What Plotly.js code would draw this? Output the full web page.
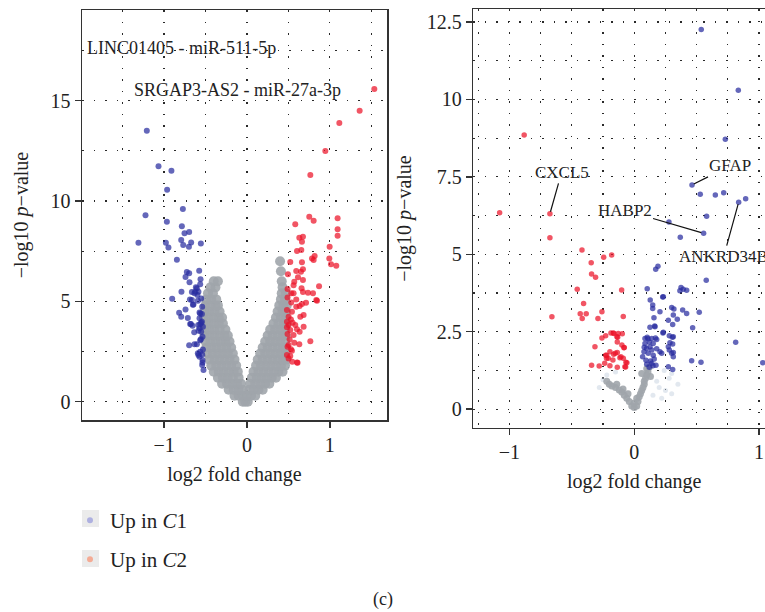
<!DOCTYPE html>
<html>
<head>
<meta charset="utf-8">
<script src="https://cdn.plot.ly/plotly-3.0.1.min.js"></script>
<style>html,body{margin:0;padding:0;background:#fff;}#plot{width:765px;height:612px;}</style>
</head>
<body>
<div id="plot"></div>
<script>
// ---------------- DATA ----------------
// Left panel: lncRNA - miRNA pairs
const leftBlueX = [-1.208,-1.067,-0.911,-0.963,-0.773,-1.224,-0.966,-0.785,-0.753,-0.697,-1.309,-0.978,-0.947,-0.793,-0.769,-0.700,-0.673,-0.556,-0.845,-0.725,-0.697,-0.576,-0.741,-0.693,-0.560,-0.564,-0.604,-0.624,-0.585,-0.790,-0.664,-0.597,-0.902,-0.688,-0.552,-0.592,-0.652,-0.540,-0.741,-0.818,-0.572,-0.543,-0.793,-0.713,-0.572,-0.543,-0.564,-0.685,-0.657,-0.531,-0.572,-0.552,-0.536,-0.556,-0.633,-0.697,-0.604,-0.564,-0.592,-0.540,-0.572,-0.540,-0.524,-0.585,-0.588,-0.552,-0.616,-0.633,-0.536,-0.585,-0.645,-0.664,-0.676,-0.636,-0.564,-0.564,-0.536,-0.531];
const leftBlueY = [13.50,11.73,11.51,10.56,9.60,9.29,8.97,8.75,8.39,8.46,7.92,7.92,7.69,8.06,7.81,7.72,7.94,7.89,7.08,6.46,6.40,6.53,6.21,5.96,6.10,5.86,5.65,5.48,5.48,5.48,5.47,5.32,5.13,5.10,5.15,5.03,4.83,4.73,4.60,4.43,4.45,4.37,4.24,4.17,4.16,3.99,3.87,3.87,3.79,3.74,3.66,3.49,3.24,3.11,2.87,2.81,2.87,2.49,2.41,2.36,2.24,1.83,1.58,3.54,3.82,3.94,5.70,5.40,2.08,2.33,4.85,5.07,3.87,3.46,3.07,4.40,1.95,2.60];

const leftRedX = [1.537,1.360,1.115,0.946,0.765,0.752,0.805,1.094,1.094,1.094,0.583,0.676,0.632,0.664,0.998,0.656,0.604,0.994,0.785,0.805,0.817,1.014,1.078,0.523,0.664,0.595,0.676,0.652,0.495,0.616,0.676,0.571,0.563,0.870,0.659,0.490,0.676,0.535,0.563,0.737,0.797,0.595,0.490,0.845,0.713,0.664,0.535,0.595,0.636,0.483,0.543,0.684,0.644,0.503,0.531,0.483,0.551,0.503,0.583,0.483,0.604,0.523,0.684,0.636,0.490,0.563,0.515,0.765,0.571,0.632,0.503,0.531,0.543,0.483,0.523,0.547,0.611,0.503,0.604,0.490,0.837];
const leftRedY = [15.58,14.50,13.89,12.49,11.30,9.22,9.02,9.14,8.59,8.27,8.85,8.22,8.17,7.97,7.72,7.56,7.51,7.14,7.14,7.06,7.26,6.85,6.78,6.96,6.95,6.51,6.60,6.48,6.35,6.20,6.06,5.98,5.81,5.76,5.65,5.62,5.47,5.40,5.40,5.43,5.40,5.10,5.20,5.03,4.93,4.87,4.95,4.73,4.77,4.57,4.49,4.32,4.24,4.24,4.10,3.99,3.94,3.82,3.82,3.71,3.61,3.57,3.74,3.49,3.37,3.32,3.11,3.02,2.94,2.87,2.83,2.61,2.54,2.33,2.28,1.99,1.94,2.16,1.96,2.74,5.07];

// grey (not significant) cloud of the left panel, [log2FC, -log10 p]
const leftGrey = [
 [-0.05,0],[-0.02,0],[0.01,0],
 [-0.15,0.3],[-0.10,0.3],[-0.05,0.3],[0.0,0.3],[0.05,0.3],[0.10,0.3],
 [-0.22,0.6],[-0.16,0.6],[-0.10,0.6],[-0.05,0.6],[0.03,0.6],[0.08,0.6],[0.14,0.6],[0.19,0.6],
 [-0.30,0.9],[-0.24,0.9],[-0.18,0.9],[-0.12,0.9],[-0.07,0.9],[0.04,0.9],[0.10,0.9],[0.16,0.9],[0.22,0.9],[0.27,0.9],
 [-0.35,1.2],[-0.29,1.2],[-0.23,1.2],[-0.17,1.2],[-0.10,1.2],[0.06,1.2],[0.12,1.2],[0.18,1.2],[0.24,1.2],[0.30,1.2],[0.35,1.2],
 [-0.40,1.5],[-0.34,1.5],[-0.28,1.5],[-0.22,1.5],[-0.16,1.5],[-0.11,1.5],[0.08,1.5],[0.14,1.5],[0.20,1.5],[0.26,1.5],[0.32,1.5],[0.38,1.5],[0.43,1.5],
 [-0.43,1.8],[-0.37,1.8],[-0.31,1.8],[-0.25,1.8],[-0.19,1.8],[-0.13,1.8],[0.11,1.8],[0.17,1.8],[0.23,1.8],[0.29,1.8],[0.35,1.8],[0.41,1.8],[0.46,1.8],
 [-0.45,2.1],[-0.39,2.1],[-0.33,2.1],[-0.27,2.1],[-0.21,2.1],[-0.15,2.1],[0.13,2.1],[0.19,2.1],[0.25,2.1],[0.31,2.1],[0.37,2.1],[0.43,2.1],[0.47,2.1],
 [-0.47,2.4],[-0.41,2.4],[-0.35,2.4],[-0.29,2.4],[-0.23,2.4],[-0.17,2.4],[0.16,2.4],[0.22,2.4],[0.28,2.4],[0.34,2.4],[0.40,2.4],[0.46,2.4],
 [-0.49,2.7],[-0.43,2.7],[-0.37,2.7],[-0.31,2.7],[-0.25,2.7],[-0.19,2.7],[0.19,2.7],[0.25,2.7],[0.31,2.7],[0.37,2.7],[0.43,2.7],[0.47,2.7],
 [-0.50,3.0],[-0.44,3.0],[-0.38,3.0],[-0.32,3.0],[-0.26,3.0],[-0.21,3.0],[0.22,3.0],[0.28,3.0],[0.34,3.0],[0.40,3.0],[0.46,3.0],
 [-0.51,3.3],[-0.45,3.3],[-0.39,3.3],[-0.33,3.3],[-0.27,3.3],[-0.23,3.3],[0.25,3.3],[0.31,3.3],[0.37,3.3],[0.43,3.3],[0.47,3.3],
 [-0.51,3.6],[-0.45,3.6],[-0.39,3.6],[-0.33,3.6],[-0.26,3.6],[0.28,3.6],[0.34,3.6],[0.40,3.6],[0.46,3.6],
 [-0.52,3.9],[-0.46,3.9],[-0.40,3.9],[-0.34,3.9],[-0.29,3.9],[0.32,3.9],[0.38,3.9],[0.44,3.9],[0.48,3.9],
 [-0.52,4.2],[-0.46,4.2],[-0.40,4.2],[-0.34,4.2],[-0.30,4.2],[0.35,4.2],[0.41,4.2],[0.47,4.2],
 [-0.51,4.5],[-0.45,4.5],[-0.39,4.5],[-0.33,4.5],[0.37,4.5],[0.43,4.5],[0.47,4.5],
 [-0.50,4.8],[-0.44,4.8],[-0.38,4.8],[-0.35,4.8],[0.39,4.8],[0.44,4.8],[0.48,4.8],
 [-0.49,5.1],[-0.43,5.1],[-0.37,5.1],[0.41,5.1],[0.46,5.1],
 [-0.47,5.4],[-0.41,5.4],[0.42,5.4],[0.47,5.4],
 [-0.44,5.7],[-0.38,5.7],[0.43,5.7],
 [-0.40,6.0],[-0.35,6.0],[0.42,6.0],
 [0.41,6.5],[0.40,7.0]
];

// Right panel: genes
const rightRedX = [-0.882,-1.079,-0.676,-0.676,-0.419,-0.345,-0.245,-0.181,-0.342,-0.310,-0.457,-0.101,-0.406,-0.433,-0.385,-0.417,-0.259,-0.291,-0.088,-0.660,-0.229,-0.259,-0.187,-0.163,-0.096,-0.139,-0.136,-0.315,-0.099,-0.083,-0.229,-0.208,-0.171,-0.165,-0.136,-0.115,-0.088,-0.342,-0.281,-0.237,-0.195,-0.136,-0.069,-0.059,-0.222,-0.168,-0.128,-0.133,-0.080,-0.195,-0.152,-0.107,-0.222,-0.067,-0.075];
const rightRedY = [8.85,6.34,6.31,5.53,5.14,4.73,4.90,4.98,4.36,4.26,3.87,3.85,3.41,3.08,3.08,2.93,3.14,2.93,2.99,2.98,2.37,2.30,2.46,2.44,2.43,2.34,2.17,2.01,2.07,1.98,1.74,1.64,1.59,1.77,1.83,1.66,1.64,1.42,1.39,1.48,1.40,1.35,1.36,1.50,1.74,2.46,2.44,2.32,1.99,1.85,1.80,1.69,1.64,1.51,1.37];

const rightBlueX = [0.537,0.834,0.730,0.463,0.529,0.650,0.717,0.837,0.893,0.580,0.278,0.556,0.369,0.172,0.190,0.577,0.104,0.375,0.393,0.420,0.366,0.228,0.128,0.148,0.148,0.206,0.300,0.318,0.388,0.420,0.521,0.158,0.273,0.308,0.345,0.126,0.164,0.230,0.281,0.305,0.086,0.104,0.140,0.120,0.086,0.152,0.126,0.099,0.140,0.078,0.112,0.152,0.067,0.094,0.140,0.174,0.206,0.220,0.281,0.300,0.313,0.286,0.308,0.273,0.308,0.460,0.535,0.813,1.030,0.468,0.233,0.313,0.166,0.233,0.313,0.273,0.313,0.10,0.13,0.16,0.08,0.17,0.12,0.15,0.18,0.18,0.11];
const rightBlueY = [12.26,10.30,8.71,7.24,6.94,6.91,6.99,6.68,6.79,6.23,6.04,5.68,5.55,4.52,4.61,4.16,3.89,3.93,3.87,3.84,3.82,3.62,3.52,3.36,3.25,3.14,3.28,3.23,3.20,3.09,3.13,2.95,2.87,2.73,2.90,2.64,2.68,2.46,2.37,2.32,2.28,2.32,2.28,2.17,2.12,2.12,2.01,1.96,1.91,1.85,1.80,1.74,1.69,1.58,1.48,1.42,1.85,1.80,1.91,1.80,1.83,2.14,2.10,1.37,1.28,1.56,1.51,2.16,1.50,2.63,3.63,3.04,2.66,2.48,2.34,2.01,1.69,1.45,1.55,1.62,2.00,2.30,1.35,1.40,1.95,2.25,2.27];

const rightGrey = [
 [0.00,0.05],[0.02,0.10],[-0.02,0.10],[0.00,0.20],[-0.04,0.25],[0.03,0.25],[-0.06,0.35],[0.02,0.35],[0.04,0.40],
 [-0.08,0.45],[-0.05,0.50],[0.05,0.50],[-0.10,0.55],[0.06,0.60],[-0.12,0.62],[-0.09,0.65],[-0.15,0.70],[0.07,0.70],
 [-0.18,0.75],[-0.14,0.80],[-0.20,0.80],[0.08,0.80],[-0.22,0.90],[0.08,0.90],[0.09,1.00],[0.10,1.10],[0.11,1.20],
 [0.10,1.30],[0.12,1.35],[0.06,1.15],[0.13,1.05]
];
const rightGreyLight = [
 [0.20,0.70],[0.25,0.60],[0.30,0.50],[0.18,0.90],[0.35,0.80],[-0.28,0.70],[-0.22,1.10],[0.28,1.00],
 [0.15,0.45],[0.22,0.35],[-0.15,1.20],[0.30,1.15],[-0.25,0.95],[0.24,1.25]
];

const legendNames = ['Up in <i>C</i>1', 'Up in <i>C</i>2'];
const leftLabels = ['LINC01405 - miR-511-5p', 'SRGAP3-AS2 - miR-27a-3p'];
const leftLabelX = [-0.787, -0.117];
const leftLabelY = [17.64, 15.53];
const geneLabels = ['CXCL5', 'GFAP', 'HABP2', 'ANKRD34B'];
const geneX = [-0.676, 0.463, 0.553, 0.837];
const geneY = [6.31, 7.24, 5.68, 6.68];

// ---------------- STYLE ----------------
const FONT = 'Liberation Serif, Times New Roman, serif';
const BLUE = 'rgba(40,45,160,0.72)';
const RED = 'rgba(236,20,40,0.72)';
const GREY = 'rgba(160,165,171,0.9)';
const GREYLIGHT = 'rgba(190,205,220,0.45)';

function pts(arr, k){ return arr.map(p => p[k]); }

const traces = [
  {x: pts(leftGrey,0), y: pts(leftGrey,1), xaxis:'x', yaxis:'y', type:'scatter', mode:'markers',
   marker:{color:GREY, size:10}, showlegend:false, hoverinfo:'skip'},
  {x: leftBlueX, y: leftBlueY, xaxis:'x', yaxis:'y', type:'scatter', mode:'markers',
   marker:{color:BLUE, size:6}, showlegend:false},
  {x: leftRedX, y: leftRedY, xaxis:'x', yaxis:'y', type:'scatter', mode:'markers',
   marker:{color:RED, size:6}, showlegend:false},
  {x: pts(rightGreyLight,0), y: pts(rightGreyLight,1), xaxis:'x2', yaxis:'y2', type:'scatter', mode:'markers',
   marker:{color:GREYLIGHT, size:5}, showlegend:false, hoverinfo:'skip'},
  {x: pts(rightGrey,0), y: pts(rightGrey,1), xaxis:'x2', yaxis:'y2', type:'scatter', mode:'markers',
   marker:{color:GREY, size:7}, showlegend:false, hoverinfo:'skip'},
  {x: rightRedX, y: rightRedY, xaxis:'x2', yaxis:'y2', type:'scatter', mode:'markers',
   marker:{color:RED, size:5.5}, showlegend:false},
  {x: rightBlueX, y: rightBlueY, xaxis:'x2', yaxis:'y2', type:'scatter', mode:'markers',
   marker:{color:BLUE, size:5.5}, showlegend:false},
  // legend-only entries
  {x:[null], y:[null], xaxis:'x', yaxis:'y', type:'scatter', mode:'markers', name: legendNames[0],
   marker:{color:'#aeb0e0', size:6}, showlegend:true, legend:'legend'},
  {x:[null], y:[null], xaxis:'x', yaxis:'y', type:'scatter', mode:'markers', name: legendNames[1],
   marker:{color:'#f4ab95', size:6}, showlegend:true, legend:'legend2'}
];

const gridDash = '1.5px,10px';
function axisBase(extra){
  return Object.assign({
    showline:true, linecolor:'#333', linewidth:1.5,
    ticks:'outside', ticklen:6, tickwidth:1.5, tickcolor:'#333',
    tickfont:{family:FONT, size:20, color:'#222'},
    showgrid:true, gridcolor:'#2a2a2a', gridwidth:1.2, griddash:gridDash,
    zeroline:false, fixedrange:true
  }, extra);
}
function minorGrid(d){
  return {dtick:d, showgrid:true, gridcolor:'#2a2a2a', gridwidth:1.2, griddash:gridDash, ticks:''};
}

const W = 765, H = 612;
const px = v => v / W;
const py = v => (H - v) / H;

const annotations = [];
leftLabels.forEach((t,i) => annotations.push({
  xref:'x', yref:'y', x:leftLabelX[i], y:leftLabelY[i], text:t, showarrow:false,
  font:{family:FONT, size:18, color:'#222'}
}));
const geneOff = [[11.7,-41.4],[38,-19],[-78.7,-23],[-15,54.4]];
geneLabels.forEach((t,i) => annotations.push({
  xref:'x2', yref:'y2', x:geneX[i], y:geneY[i], text:t, showarrow:true,
  arrowhead:0, arrowwidth:1.2, arrowcolor:'#111', ax:geneOff[i][0], ay:geneOff[i][1], standoff:2,
  font:{family:FONT, size:17, color:'#222'}
}));
annotations.push({xref:'x2', yref:'paper', x:0, y:py(481.5), yanchor:'middle', text:'log2 fold change',
  showarrow:false, font:{family:FONT, size:20, color:'#222'}});
annotations.push({xref:'paper', yref:'paper', x:px(383), y:py(599), yanchor:'middle', text:'(c)', showarrow:false,
  font:{family:FONT, size:18, color:'#222'}});

const layout = {
  width:W, height:H,
  margin:{l:0, r:0, t:0, b:0},
  paper_bgcolor:'#fff', plot_bgcolor:'#fff',
  font:{family:FONT, size:20, color:'#222'},
  xaxis: axisBase({domain:[px(82), px(387)], range:[-1.99, 1.69], anchor:'y', mirror:true,
    tickmode:'linear', tick0:0, dtick:1, minor:minorGrid(0.5),
    title:{text:'log2 fold change', font:{family:FONT, size:20, color:'#222'}, standoff:12}}),
  yaxis: axisBase({domain:[py(420), py(10)], range:[-0.91, 19.52], anchor:'x', mirror:true,
    tickmode:'linear', tick0:0, dtick:5, minor:minorGrid(2.5),
    title:{text:'−log10 <i>p</i>−value', font:{family:FONT, size:20, color:'#222'}, standoff:16}}),
  xaxis2: axisBase({domain:[px(473.3), 1], range:[-1.29, 1.048], anchor:'y2', mirror:true,
    tickmode:'linear', tick0:0, dtick:1, minor:minorGrid(0.25)}),
  yaxis2: axisBase({domain:[py(427.7), py(9.3)], range:[-0.60, 12.91], anchor:'x2', mirror:false,
    tickmode:'linear', tick0:0, dtick:2.5, minor:minorGrid(1.25),
    title:{text:'−log10 <i>p</i>−value', font:{family:FONT, size:20, color:'#222'}, standoff:10}}),
  legend:{x:px(70), y:py(520.5), xanchor:'left', yanchor:'middle', bgcolor:'rgba(0,0,0,0)',
    font:{family:FONT, size:21, color:'#222'}},
  legend2:{x:px(70), y:py(559.5), xanchor:'left', yanchor:'middle', bgcolor:'rgba(0,0,0,0)',
    font:{family:FONT, size:21, color:'#222'}},
  shapes:[
    {type:'rect', xref:'paper', yref:'paper', x0:px(82), x1:px(99), y0:py(527), y1:py(510),
     fillcolor:'#ebebeb', line:{width:0}, layer:'below'},
    {type:'rect', xref:'paper', yref:'paper', x0:px(82), x1:px(99), y0:py(567), y1:py(550),
     fillcolor:'#ebebeb', line:{width:0}, layer:'below'}
  ],
  annotations: annotations,
  showlegend:true
};

Plotly.newPlot('plot', traces, layout, {staticPlot:true, displayModeBar:false});
</script>
</body>
</html>
